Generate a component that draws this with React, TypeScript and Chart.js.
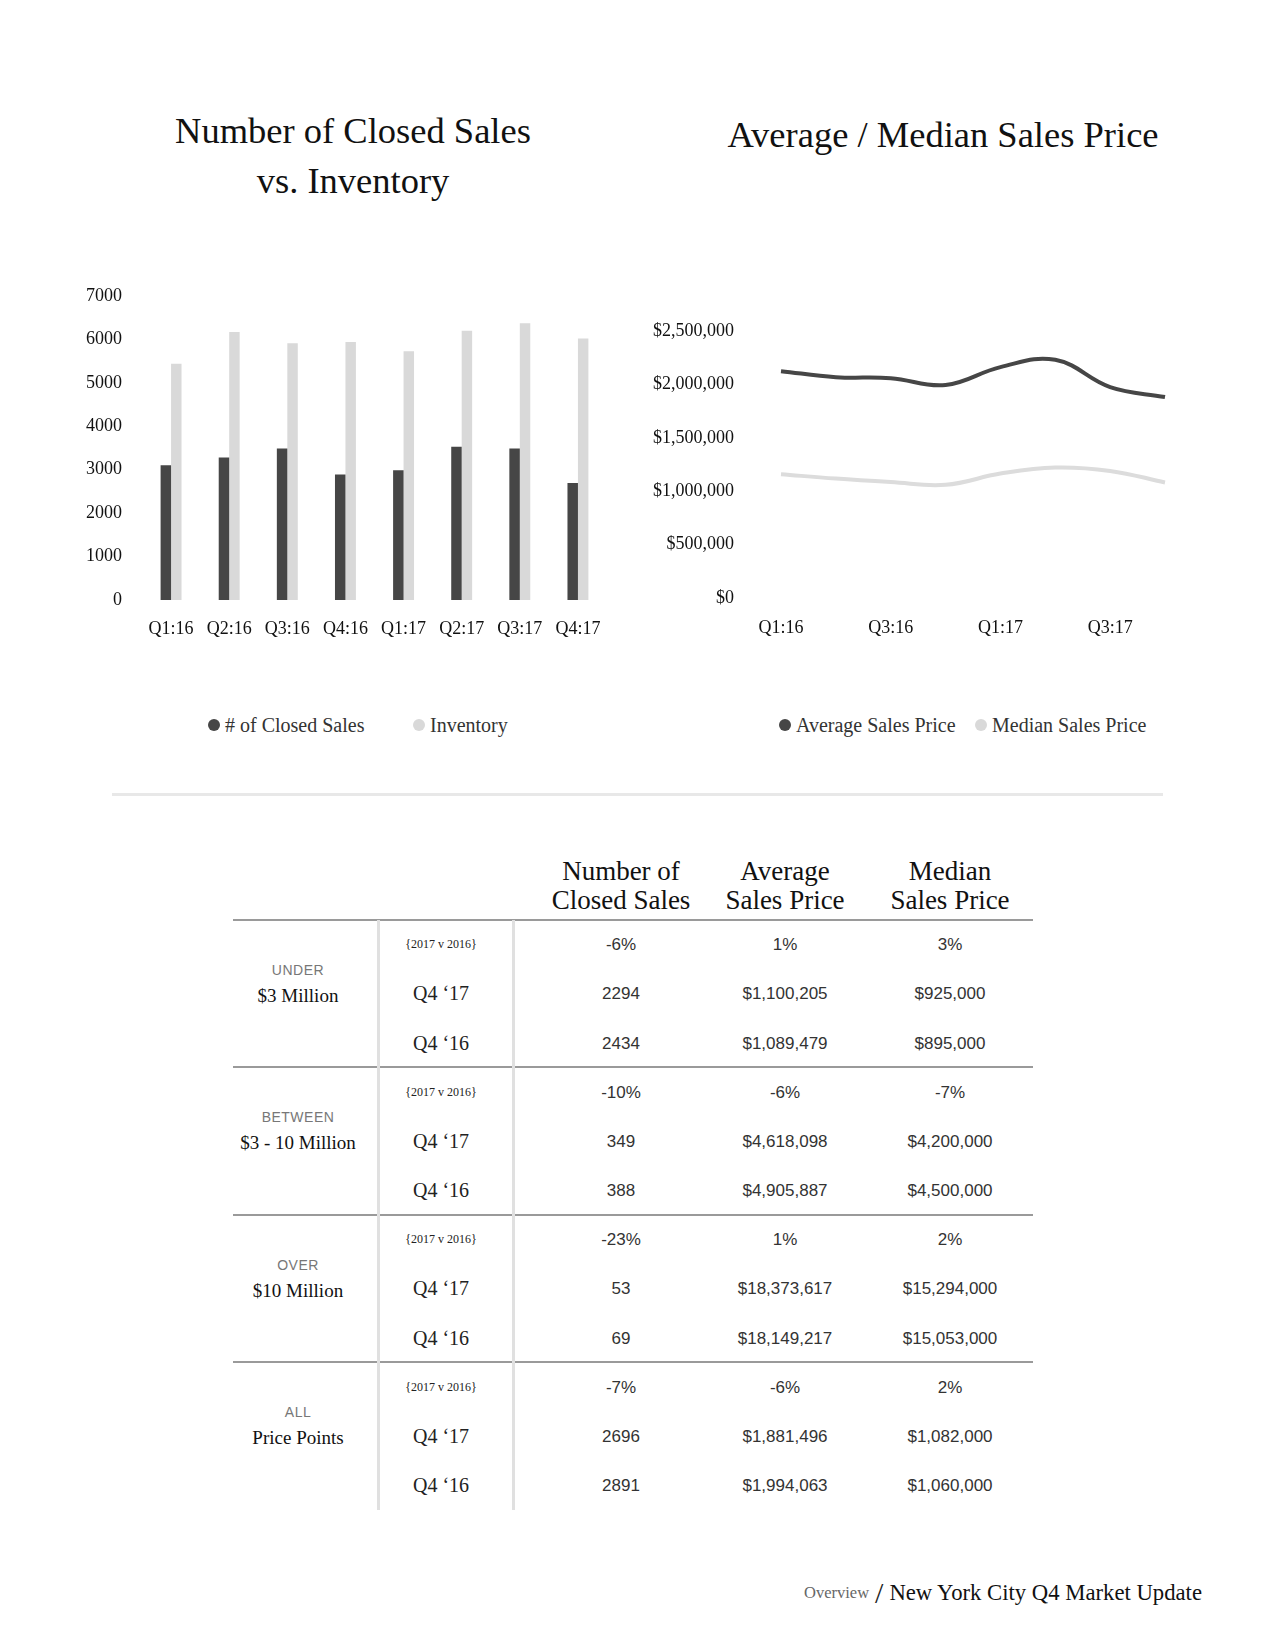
import React, { useEffect, useRef } from "react";
import { Chart, registerables } from "chart.js";

Chart.register(...registerables);

// ---------- Data ----------
const quarters = ["Q1:16", "Q2:16", "Q3:16", "Q4:16", "Q1:17", "Q2:17", "Q3:17", "Q4:17"];
const closedSales = [3100, 3280, 3490, 2891, 2990, 3530, 3490, 2696];
const inventory = [5440, 6170, 5910, 5940, 5730, 6200, 6370, 6020];
const avgPrice = [2124000, 2068000, 2058000, 1994063, 2162000, 2230000, 1975000, 1881496];
const medianPrice = [1159000, 1118000, 1086000, 1060000, 1165000, 1222000, 1190000, 1082000];

const tierTop = ["UNDER", "BETWEEN", "OVER", "ALL"];
const tierMain = ["$3 Million", "$3 - 10 Million", "$10 Million", "Price Points"];
const periodLabels = ["{2017 v 2016}", "Q4 \u201817", "Q4 \u201816"];
const closedChange = ["-6%", "-10%", "-23%", "-7%"];
const avgChange = ["1%", "-6%", "1%", "-6%"];
const medChange = ["3%", "-7%", "2%", "2%"];
const closedQ417 = ["2294", "349", "53", "2696"];
const closedQ416 = ["2434", "388", "69", "2891"];
const avgQ417 = ["$1,100,205", "$4,618,098", "$18,373,617", "$1,881,496"];
const avgQ416 = ["$1,089,479", "$4,905,887", "$18,149,217", "$1,994,063"];
const medQ417 = ["$925,000", "$4,200,000", "$15,294,000", "$1,082,000"];
const medQ416 = ["$895,000", "$4,500,000", "$15,053,000", "$1,060,000"];

const DARK = "#464646";
const LIGHT = "#d9d9d9";
const SERIF = "'Liberation Serif', 'DejaVu Serif', serif";
const SANS = "'Liberation Sans', Arial, sans-serif";

type TProps = { x: number; y: number; align?: "center" | "left" | "right"; style?: React.CSSProperties; children: React.ReactNode };
function T({ x, y, align = "center", style, children }: TProps) {
  const tx = align === "center" ? "-50%" : align === "left" ? "0" : "-100%";
  return (
    <div
      style={{
        position: "absolute",
        left: x,
        top: y,
        transform: `translate(${tx}, -50%)`,
        whiteSpace: "nowrap",
        lineHeight: 1,
        ...style,
      }}
    >
      {children}
    </div>
  );
}

function BarChart() {
  const ref = useRef<HTMLCanvasElement>(null);
  useEffect(() => {
    if (!ref.current) return;
    const chart = new Chart(ref.current, {
      type: "bar",
      data: {
        labels: quarters,
        datasets: [
          { label: "# of Closed Sales", data: closedSales, backgroundColor: DARK, categoryPercentage: 0.36, barPercentage: 1 },
          { label: "Inventory", data: inventory, backgroundColor: LIGHT, categoryPercentage: 0.36, barPercentage: 1 },
        ],
      },
      options: {
        responsive: false,
        animation: false,
        layout: { padding: { top: 26, right: 23, left: 0, bottom: 0 } },
        plugins: { legend: { display: false }, tooltip: { enabled: false } },
        scales: {
          x: {
            grid: { display: false, drawTicks: false },
            border: { display: false },
            ticks: { color: "#111", font: { family: SERIF, size: 18 }, padding: 18, maxRotation: 0, autoSkip: false },
            afterFit: (s: any) => { s.height = 60; },
          },
          y: {
            min: 0,
            max: 7000,
            grid: { display: false, drawTicks: false },
            border: { display: false },
            ticks: {
              stepSize: 1000,
              color: "#111",
              font: { family: SERIF, size: 18 },
              padding: 20,
              callback: (v: any) => String(v),
            },
            afterFit: (s: any) => { s.width = 102; s.paddingTop = 0; s.paddingBottom = 0; },
          },
        },
      },
    });
    return () => chart.destroy();
  }, []);
  return <canvas ref={ref} width={590} height={390} style={{ position: "absolute", left: 40, top: 270, width: 590, height: 390 }} />;
}

function LineChart() {
  const ref = useRef<HTMLCanvasElement>(null);
  useEffect(() => {
    if (!ref.current) return;
    const chart = new Chart(ref.current, {
      type: "line",
      data: {
        labels: quarters,
        datasets: [
          { label: "Average Sales Price", data: avgPrice, borderColor: DARK, borderWidth: 4, pointRadius: 0, tension: 0.4, fill: false },
          { label: "Median Sales Price", data: medianPrice, borderColor: "#dcdcdc", borderWidth: 4, pointRadius: 0, tension: 0.4, fill: false },
        ],
      },
      options: {
        responsive: false,
        animation: false,
        layout: { padding: { top: 41, right: 35, left: 0, bottom: 0 } },
        plugins: { legend: { display: false }, tooltip: { enabled: false } },
        scales: {
          x: {
            offset: false,
            grid: { display: false, drawTicks: false },
            border: { display: false },
            ticks: {
              color: "#111",
              font: { family: SERIF, size: 18 },
              padding: 19,
              maxRotation: 0,
              autoSkip: false,
              callback: (_v: any, i: number) => (i % 2 === 0 ? quarters[i] : ""),
            },
            afterFit: (s: any) => { s.height = 52; },
          },
          y: {
            min: 0,
            max: 2500000,
            grid: { display: false, drawTicks: false },
            border: { display: false },
            ticks: {
              stepSize: 500000,
              color: "#111",
              font: { family: SERIF, size: 18 },
              padding: 47,
              callback: (v: any) => "$" + Number(v).toLocaleString("en-US"),
            },
            afterFit: (s: any) => { s.width = 141; s.paddingTop = 0; s.paddingBottom = 0; },
          },
        },
      },
    });
    return () => chart.destroy();
  }, []);
  return <canvas ref={ref} width={560} height={360} style={{ position: "absolute", left: 640, top: 290, width: 560, height: 360 }} />;
}

function LegendItem({ x, y, color, label }: { x: number; y: number; color: string; label: string }) {
  return (
    <>
      <div style={{ position: "absolute", left: x - 6, top: y - 6, width: 12, height: 12, borderRadius: 6, background: color }} />
      <T x={x + 11} y={y} align="left" style={{ fontFamily: SERIF, fontSize: 20, color: "#333" }}>{label}</T>
    </>
  );
}

function Table() {
  const tableTop = 919.5;
  const groupH = 147.5;
  const rowH = 49.3;
  const left = 233;
  const right = 1033;
  const colX = [298, 441, 621, 785, 950];
  const els: React.ReactNode[] = [];
  const headers = [["Number of", "Closed Sales"], ["Average", "Sales Price"], ["Median", "Sales Price"]];
  headers.forEach((h, i) => {
    els.push(<T key={`h${i}a`} x={colX[i + 2]} y={871} style={{ fontFamily: SERIF, fontSize: 27, color: "#111" }}>{h[0]}</T>);
    els.push(<T key={`h${i}b`} x={colX[i + 2]} y={899.5} style={{ fontFamily: SERIF, fontSize: 27, color: "#111" }}>{h[1]}</T>);
  });
  for (let g = 0; g < 4; g++) {
    const top = tableTop + g * groupH;
    els.push(<div key={`l${g}`} style={{ position: "absolute", left, top: top - 1, width: right - left, height: 2, background: "#9a9a9a" }} />);
    els.push(<T key={`tt${g}`} x={colX[0]} y={top + 50} style={{ fontFamily: SANS, fontSize: 14, color: "#777", letterSpacing: 0.5 }}>{tierTop[g]}</T>);
    els.push(<T key={`tm${g}`} x={colX[0]} y={top + 75} style={{ fontFamily: SERIF, fontSize: 19, color: "#111" }}>{tierMain[g]}</T>);
    const rows = [
      [closedChange[g], avgChange[g], medChange[g]],
      [closedQ417[g], avgQ417[g], medQ417[g]],
      [closedQ416[g], avgQ416[g], medQ416[g]],
    ];
    rows.forEach((r, ri) => {
      const cy = top + rowH * (ri + 0.5);
      els.push(
        <T key={`p${g}${ri}`} x={colX[1]} y={cy} style={{ fontFamily: SERIF, fontSize: ri === 0 ? 12 : 20, color: "#222" }}>
          {periodLabels[ri]}
        </T>
      );
      r.forEach((v, ci) => {
        els.push(
          <T key={`v${g}${ri}${ci}`} x={colX[ci + 2]} y={cy} style={{ fontFamily: SANS, fontSize: 17, color: "#333" }}>
            {v}
          </T>
        );
      });
    });
  }
  els.push(<div key="v1" style={{ position: "absolute", left: 376.5, top: tableTop, width: 3, height: 590, background: "#e0e0e0" }} />);
  els.push(<div key="v2" style={{ position: "absolute", left: 512, top: tableTop, width: 3, height: 590, background: "#e0e0e0" }} />);
  return <>{els}</>;
}

export default function App() {
  return (
    <div style={{ position: "absolute", left: 0, top: 0, width: 1275, height: 1650, background: "#fff", fontFamily: SERIF, overflow: "hidden" }}>
      <T x={353} y={131} style={{ fontFamily: SERIF, fontSize: 36.5, color: "#111" }}>Number of Closed Sales</T>
      <T x={353} y={181} style={{ fontFamily: SERIF, fontSize: 36.5, color: "#111" }}>vs. Inventory</T>
      <T x={943} y={135} style={{ fontFamily: SERIF, fontSize: 36.5, color: "#111" }}>Average / Median Sales Price</T>

      <BarChart />
      <LineChart />

      <LegendItem x={214} y={725} color={DARK} label="# of Closed Sales" />
      <LegendItem x={419} y={725} color={LIGHT} label="Inventory" />
      <LegendItem x={785} y={725} color={DARK} label="Average Sales Price" />
      <LegendItem x={981} y={725} color={LIGHT} label="Median Sales Price" />

      <div style={{ position: "absolute", left: 112, top: 793, width: 1051, height: 3, background: "#e8e8e8" }} />

      <Table />

      <div style={{ position: "absolute", left: 804, top: 1593, transform: "translateY(-50%)", whiteSpace: "nowrap", lineHeight: 1, display: "flex", alignItems: "center" }}>
        <span style={{ fontFamily: SERIF, fontSize: 16.5, color: "#666" }}>Overview</span>
        <span style={{ fontFamily: SERIF, fontSize: 30, color: "#222", margin: "0 6px", fontWeight: 300 }}>/</span>
        <span style={{ fontFamily: SERIF, fontSize: 22.7, color: "#111" }}>New York City Q4 Market Update</span>
      </div>
    </div>
  );
}
